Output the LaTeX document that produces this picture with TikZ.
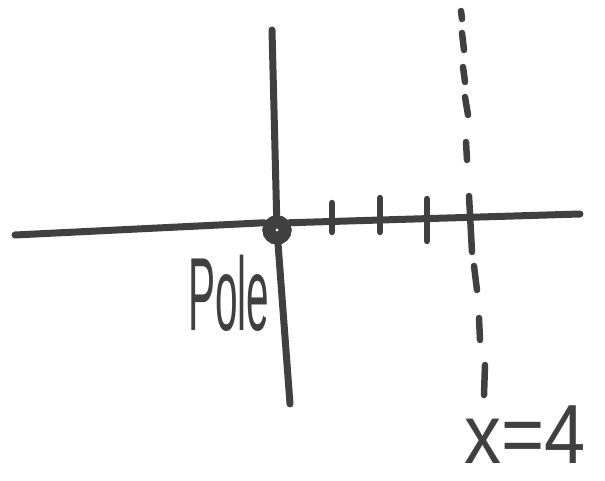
\documentclass[tikz,border=0pt]{standalone}
\usepackage{fontspec}
\setmainfont{Liberation Sans}
\definecolor{ink}{HTML}{404040}
\begin{document}
\begin{tikzpicture}[x=1pt,y=-1pt,
  inkline/.style={draw=ink,line width=7pt,line cap=round},
  tickmark/.style={draw=ink,line width=6.5pt,line cap=round},
  dashseg/.style={draw=ink,line width=6.5pt,line cap=round},
  polering/.style={circle,draw=ink,line width=13pt,minimum size=16pt,inner sep=0pt,fill=white},
  label/.style={text=ink,inner sep=0pt}]
\useasboundingbox (0,0) rectangle (605,481);
% pole
\node[polering] (pole) at (277,230) {};
% axes ends
\coordinate (axL) at (15,235);
\coordinate (axR) at (580,214);
\coordinate (vT) at (272,30);
\coordinate (vB) at (290,404);
\draw[inkline] (axL) -- (pole.150);
\draw[inkline] (pole.30) -- (axR);
\draw[inkline] (vT) -- (pole);
\draw[inkline] (pole) -- (vB);
\node[polering] at (pole) {};
% ticks
\draw[tickmark] (332,203) -- (332,232);
\draw[tickmark] (380,198) -- (380,232);
\draw[tickmark] (427,199) -- (427,241);
% dashed line x=4
\draw[dashseg] (461,11) -- (462,19);
\draw[dashseg] (462,33) -- (464,50);
\draw[dashseg] (463,67) -- (465,82);
\draw[dashseg] (465,97) -- (468,115);
\draw[dashseg] (466,142) -- (467,160);
\draw[tickmark] (469,196) -- (472,252);
\draw[dashseg] (474,266) -- (477,290);
\draw[dashseg] (479,318) -- (480,340);
\draw[dashseg] (485,365) -- (484,395);
% labels
\node[label,anchor=base west] (poletext) at (188,330) {\scalebox{0.39}[1]{\fontsize{104}{104}\selectfont Pole}};
\node[label,anchor=base west] (xeq) at (464,463) {\scalebox{0.88}[1]{\fontsize{84}{84}\selectfont x=4}};
\end{tikzpicture}
\end{document}
